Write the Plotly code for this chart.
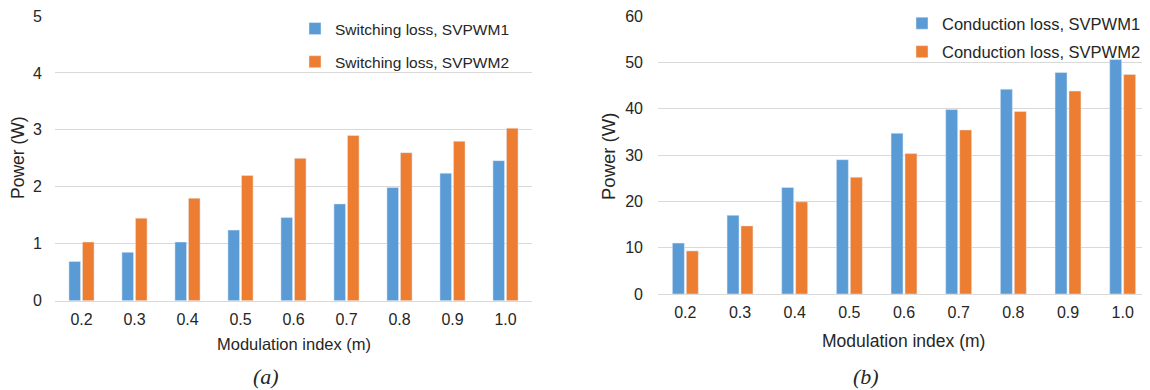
import plotly.graph_objects as go

categories = ["0.2", "0.3", "0.4", "0.5", "0.6", "0.7", "0.8", "0.9", "1.0"]
switch_svpwm1 = [0.69, 0.85, 1.03, 1.24, 1.46, 1.70, 1.99, 2.24, 2.46]
switch_svpwm2 = [1.03, 1.45, 1.80, 2.20, 2.50, 2.90, 2.60, 2.80, 3.03]
cond_svpwm1 = [11.0, 17.0, 23.0, 29.0, 34.7, 39.8, 44.2, 47.8, 50.6]
cond_svpwm2 = [9.3, 14.7, 19.9, 25.2, 30.3, 35.4, 39.4, 43.8, 47.4]

BLUE = "#5B9BD5"
ORANGE = "#ED7D31"
GRID = "#D9D9D9"
TXT = "#262626"
FONT = "Liberation Sans, Arial, sans-serif"
SERIF = "Liberation Serif, Times New Roman, serif"

# page body has an 8px margin; map screen pixels to paper coords
OFF = 8
W, H = 1142, 382
def px(x):
    return (x - OFF) / W
def py(y):
    return 1 - (y - OFF) / H

fig = go.Figure()
fig.add_trace(go.Bar(x=categories, y=switch_svpwm1, name="Switching loss, SVPWM1",
                     marker_color=BLUE, xaxis="x", yaxis="y", legend="legend", legendgroup="a1"))
fig.add_trace(go.Bar(x=categories, y=switch_svpwm2, name="Switching loss, SVPWM2",
                     marker_color=ORANGE, xaxis="x", yaxis="y", legend="legend", legendgroup="a2"))
fig.add_trace(go.Bar(x=categories, y=cond_svpwm1, name="Conduction loss, SVPWM1",
                     marker_color=BLUE, xaxis="x2", yaxis="y2", legend="legend2", legendgroup="b1"))
fig.add_trace(go.Bar(x=categories, y=cond_svpwm2, name="Conduction loss, SVPWM2",
                     marker_color=ORANGE, xaxis="x2", yaxis="y2", legend="legend2", legendgroup="b2"))

xcommon = dict(type="category", showgrid=False, showline=True, linecolor=GRID, linewidth=1,
               ticks="", tickfont=dict(family=FONT, size=16, color=TXT), ticklabelstandoff=4,
               fixedrange=True, automargin=False, ticklabeloverflow="allow")
ycommon = dict(showgrid=True, gridcolor=GRID, gridwidth=1, zeroline=False, showline=False,
               ticks="", tickfont=dict(family=FONT, size=16, color=TXT), fixedrange=True,
               automargin=False, ticklabeloverflow="allow")

def ann(text, x, y, size, family=FONT, angle=0):
    return dict(text=text, x=px(x), y=py(y), xref="paper", yref="paper",
                xanchor="center", yanchor="middle", textangle=angle, showarrow=False,
                font=dict(family=family, size=size, color=TXT))

fig.update_layout(
    width=W, height=H,
    margin=dict(l=0, r=0, t=0, b=0, pad=0, autoexpand=False),
    paper_bgcolor="white", plot_bgcolor="white",
    barmode="group", bargap=0.49, bargroupgap=0.14,
    font=dict(family=FONT, color=TXT),
    xaxis=dict(domain=[px(55), px(532)], anchor="y", **xcommon),
    yaxis=dict(domain=[py(300.7), py(16)], anchor="x", range=[0, 5], dtick=1,
               ticklabelstandoff=12, **ycommon),
    xaxis2=dict(domain=[px(658), min(1.0, px(1150))], anchor="y2", **xcommon),
    yaxis2=dict(domain=[py(294), py(16)], anchor="x2", range=[0, 60], dtick=10,
                ticklabelstandoff=14, **ycommon),
    legend=dict(x=px(295), y=py(12), xanchor="left", yanchor="top",
                font=dict(family=FONT, size=15.5, color=TXT), bgcolor="rgba(0,0,0,0)",
                traceorder="grouped", tracegroupgap=10, itemwidth=30),
    legend2=dict(x=px(902), y=py(6), xanchor="left", yanchor="top",
                 font=dict(family=FONT, size=16.5, color=TXT), bgcolor="rgba(0,0,0,0)",
                 traceorder="grouped", tracegroupgap=4, itemwidth=30),
    annotations=[
        ann("Power (W)", 18, 158, 17.5, angle=-90),
        ann("Power (W)", 609, 157, 18.5, angle=-90),
        ann("Modulation index (m)", 294, 344, 16.5),
        ann("Modulation index (m)", 903, 341, 17.5),
        ann("<i>(a)</i>", 266, 376, 22, family=SERIF),
        ann("<i>(b)</i>", 866, 376, 22, family=SERIF),
    ],
)

fig.write_html("out.html")
